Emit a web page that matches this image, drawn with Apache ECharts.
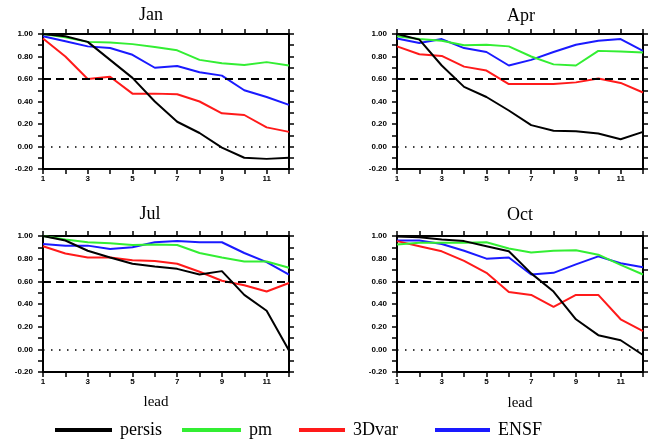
<!DOCTYPE html>
<html>
<head>
<meta charset="utf-8">
<script src="https://cdn.jsdelivr.net/npm/echarts@6/dist/echarts.min.js"></script>
<style>
  html, body { margin: 0; padding: 0; background: #fff; }
  #main { width: 654px; height: 440px; }
</style>
</head>
<body>
<div id="main"></div>
<script>
// lead times (x axis)
var leads = [1, 2, 3, 4, 5, 6, 7, 8, 9, 10, 11, 12];
var months = ['Jan', 'Apr', 'Jul', 'Oct'];
var methods = ['persis', 'pm', '3Dvar', 'ENSF'];
var colors = ['#000000', '#33ee33', '#ff1a1a', '#1a1aff'];

var janPersis = [1.00, 0.98, 0.93, 0.77, 0.61, 0.40, 0.22, 0.12, -0.01, -0.10, -0.11, -0.10];
var janPm     = [1.00, 0.97, 0.93, 0.925, 0.91, 0.885, 0.855, 0.77, 0.74, 0.725, 0.75, 0.72];
var janVar    = [0.96, 0.80, 0.60, 0.62, 0.47, 0.47, 0.465, 0.40, 0.295, 0.28, 0.17, 0.13];
var janEnsf   = [0.98, 0.935, 0.89, 0.875, 0.815, 0.70, 0.715, 0.66, 0.63, 0.50, 0.44, 0.37];

var aprPersis = [1.00, 0.95, 0.72, 0.53, 0.44, 0.32, 0.19, 0.14, 0.135, 0.115, 0.065, 0.13];
var aprPm     = [0.98, 0.955, 0.94, 0.90, 0.905, 0.89, 0.80, 0.73, 0.72, 0.85, 0.845, 0.835];
var aprVar    = [0.89, 0.82, 0.805, 0.71, 0.675, 0.555, 0.555, 0.555, 0.57, 0.605, 0.565, 0.48];
var aprEnsf   = [0.96, 0.92, 0.955, 0.875, 0.84, 0.72, 0.77, 0.84, 0.905, 0.94, 0.955, 0.85];

var julPersis = [1.00, 0.96, 0.87, 0.81, 0.755, 0.73, 0.71, 0.66, 0.69, 0.48, 0.34, -0.01];
var julPm     = [1.00, 0.97, 0.945, 0.935, 0.92, 0.925, 0.92, 0.85, 0.81, 0.775, 0.775, 0.72];
var julVar    = [0.91, 0.845, 0.81, 0.81, 0.785, 0.78, 0.755, 0.685, 0.605, 0.565, 0.51, 0.585];
var julEnsf   = [0.93, 0.915, 0.915, 0.885, 0.90, 0.945, 0.955, 0.945, 0.945, 0.85, 0.77, 0.66];

var octPersis = [0.995, 0.99, 0.97, 0.955, 0.91, 0.865, 0.67, 0.51, 0.265, 0.125, 0.08, -0.05];
var octPm     = [0.925, 0.94, 0.94, 0.94, 0.945, 0.89, 0.855, 0.87, 0.875, 0.835, 0.745, 0.66];
var octVar    = [0.955, 0.91, 0.865, 0.78, 0.675, 0.505, 0.48, 0.375, 0.48, 0.48, 0.265, 0.16];
var octEnsf   = [0.96, 0.96, 0.93, 0.87, 0.80, 0.81, 0.66, 0.675, 0.75, 0.82, 0.76, 0.725];

var panelData = [
  [janPersis, janPm, janVar, janEnsf],
  [aprPersis, aprPm, aprVar, aprEnsf],
  [julPersis, julPm, julVar, julEnsf],
  [octPersis, octPm, octVar, octEnsf]
];
var refLevel = 0.6;
var zeroLevel = 0;

var myChart = echarts.init(document.getElementById('main'));

var grids = [
  { left: 43, top: 34, width: 246, height: 135 },
  { left: 397, top: 34, width: 246, height: 135 },
  { left: 43, top: 236, width: 246, height: 136 },
  { left: 397, top: 236, width: 246, height: 136 }
];
var titlePos = [[151, 15], [521, 16], [150, 214], [520, 215]];

var tickFont = { fontFamily: 'Liberation Sans', fontWeight: 'bold', fontSize: 8, color: '#000' };
var axisLine = { show: true, onZero: false, lineStyle: { color: '#000', width: 2 } };
var tickStyle = { color: '#000', width: 1.5 };

var xAxes = [], yAxes = [], series = [], graphics = [];

grids.forEach(function (g, p) {
  // bottom axis with labels
  xAxes.push({
    type: 'value', gridIndex: p, min: 1, max: 12, interval: 1,
    axisLine: axisLine,
    axisTick: { show: true, length: 5, lineStyle: tickStyle },
    axisLabel: Object.assign({
      margin: 6,
      formatter: function (v) { return v % 2 === 1 ? String(v) : ''; }
    }, tickFont),
    splitLine: { show: false }
  });
  // top axis, ticks only
  xAxes.push({
    type: 'value', gridIndex: p, position: 'top', min: 1, max: 12, interval: 1,
    axisLine: axisLine,
    axisTick: { show: true, length: 5, lineStyle: tickStyle },
    axisLabel: { show: false },
    splitLine: { show: false }
  });
  // left axis with labels
  yAxes.push({
    type: 'value', gridIndex: p, min: -0.2, max: 1, interval: 0.2,
    axisLine: axisLine,
    axisTick: { show: true, length: 5, lineStyle: tickStyle },
    minorTick: { show: true, splitNumber: 2, length: 5, lineStyle: tickStyle },
    axisLabel: Object.assign({
      margin: 10,
      formatter: function (v) { return v.toFixed(2); }
    }, tickFont),
    splitLine: { show: false }
  });
  // right axis, ticks only
  yAxes.push({
    type: 'value', gridIndex: p, position: 'right', min: -0.2, max: 1, interval: 0.2,
    axisLine: axisLine,
    axisTick: { show: true, length: 5, lineStyle: tickStyle },
    minorTick: { show: true, splitNumber: 2, length: 5, lineStyle: tickStyle },
    axisLabel: { show: false },
    splitLine: { show: false }
  });

  panelData[p].forEach(function (vals, k) {
    var s = {
      name: methods[k],
      type: 'line',
      xAxisIndex: p * 2,
      yAxisIndex: p * 2,
      data: leads.map(function (x, i) { return [x, vals[i]]; }),
      symbol: 'none',
      color: colors[k],
      lineStyle: { color: colors[k], width: 2 },
      z: 3 + (3 - k)
    };
    if (k === 0) {
      s.markLine = {
        silent: true,
        symbol: 'none',
        label: { show: false },
        data: [
          { yAxis: refLevel, lineStyle: { color: '#000', width: 2, type: [8, 5] } },
          { yAxis: zeroLevel, lineStyle: { color: '#000', width: 1.5, type: [1.5, 6.5], dashOffset: -8 } }
        ]
      };
    }
    series.push(s);
  });

  graphics.push({
    type: 'text', x: titlePos[p][0], y: titlePos[p][1],
    style: {
      text: months[p], fontFamily: 'Liberation Serif', fontSize: 18,
      fill: '#000', textAlign: 'center', textVerticalAlign: 'middle'
    }
  });
});

// x axis names
graphics.push({
  type: 'text', x: 156, y: 402,
  style: { text: 'lead', fontFamily: 'Liberation Serif', fontSize: 15, fill: '#000', textAlign: 'center', textVerticalAlign: 'middle' }
});
graphics.push({
  type: 'text', x: 520, y: 403,
  style: { text: 'lead', fontFamily: 'Liberation Serif', fontSize: 15, fill: '#000', textAlign: 'center', textVerticalAlign: 'middle' }
});

// one legend per entry, placed as in the picture
var legendLeft = [55, 182, 299, 435];
var legendWidth = [57, 59, 46, 55];
var legends = methods.map(function (m, k) {
  return {
    data: [m],
    left: legendLeft[k],
    top: 421,
    padding: 0,
    icon: 'rect',
    itemWidth: legendWidth[k],
    itemHeight: 4,
    selectedMode: false,
    textStyle: { fontFamily: 'Liberation Serif', fontSize: 18, color: '#000', padding: [0, 0, 0, 3] }
  };
});

var option = {
  animation: false,
  backgroundColor: '#fff',
  grid: grids,
  xAxis: xAxes,
  yAxis: yAxes,
  legend: legends,
  graphic: graphics,
  series: series
};
myChart.setOption(option);
</script>
</body>
</html>
